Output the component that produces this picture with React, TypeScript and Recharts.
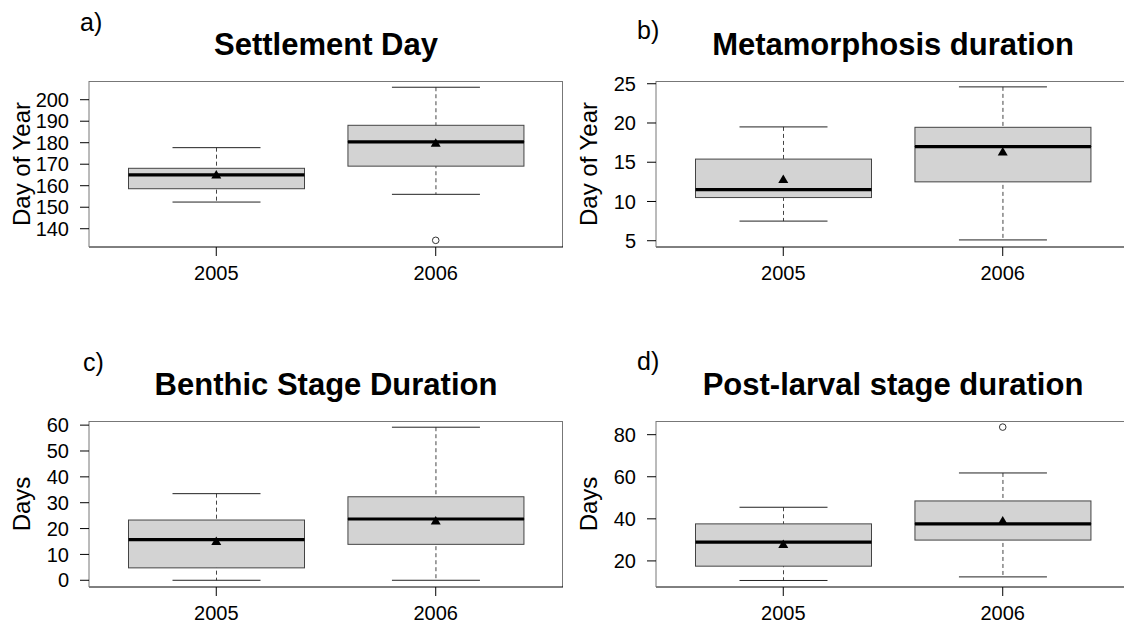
import React from "react";
import { Bar, ComposedChart, Scatter, XAxis, YAxis } from "recharts";

const years = ["2005", "2006"];

// a) Settlement Day
const settleLo = [152.4, 156.0];
const settleQ1 = [158.6, 169.1];
const settleMed = [165.0, 180.4];
const settleQ3 = [168.1, 188.1];
const settleHi = [177.7, 205.8];
const settleMean = [165.0, 179.7];
const settleOut = [null, 134.6];
const settleTicks = [140, 150, 160, 170, 180, 190, 200];

// b) Metamorphosis duration
const metaLo = [7.5, 5.1];
const metaQ1 = [10.5, 12.5];
const metaMed = [11.5, 17.0];
const metaQ3 = [15.4, 19.45];
const metaHi = [19.5, 24.6];
const metaMean = [12.8, 16.3];
const metaOut = [null, null];
const metaTicks = [5, 10, 15, 20, 25];

// c) Benthic Stage Duration
const benthLo = [0, 0];
const benthQ1 = [4.8, 13.9];
const benthMed = [15.7, 23.7];
const benthQ3 = [23.3, 32.3];
const benthHi = [33.5, 59.2];
const benthMean = [15.0, 22.9];
const benthOut = [null, null];
const benthTicks = [0, 10, 20, 30, 40, 50, 60];

// d) Post-larval stage duration
const postLo = [10.7, 12.4];
const postQ1 = [17.5, 29.9];
const postMed = [28.9, 37.6];
const postQ3 = [37.6, 48.5];
const postHi = [45.5, 61.8];
const postMean = [27.8, 39.0];
const postOut = [null, 83.6];
const postTicks = [20, 40, 60, 80];

type Row = {
  year: string;
  lo: number;
  q1: number;
  med: number;
  q3: number;
  hi: number;
  mean: number;
  out: number | null;
};

function rows(
  lo: number[],
  q1: number[],
  med: number[],
  q3: number[],
  hi: number[],
  mean: number[],
  out: (number | null)[]
): Row[] {
  return years.map((year, i) => ({
    year,
    lo: lo[i],
    q1: q1[i],
    med: med[i],
    q3: q3[i],
    hi: hi[i],
    mean: mean[i],
    out: out[i],
  }));
}

const FONT = "'Liberation Sans', Arial, Helvetica, sans-serif";

function Whisker(p: any) {
  const { x, y, width, height } = p;
  const cx = x + width / 2;
  const q = width / 4;
  return (
    <g>
      <line x1={cx} x2={cx} y1={y} y2={y + height} stroke="#444" strokeDasharray="4 3" />
      <line x1={cx - q} x2={cx + q} y1={y} y2={y} stroke="#222" />
      <line x1={cx - q} x2={cx + q} y1={y + height} y2={y + height} stroke="#222" />
    </g>
  );
}

function UpperBox(p: any) {
  const { x, y, width, height } = p;
  return <rect x={x} y={y} width={width} height={height} fill="#d3d3d3" stroke="#444" />;
}

function LowerBox(p: any) {
  const { x, y, width, height } = p;
  return (
    <g>
      <rect x={x} y={y} width={width} height={height} fill="#d3d3d3" stroke="#444" />
      <line x1={x} x2={x + width} y1={y} y2={y} stroke="#000" strokeWidth={3.2} />
    </g>
  );
}

function MeanMark(p: any) {
  const { cx, cy } = p;
  return <path d={`M${cx},${cy - 5}L${cx + 5},${cy + 3.5}L${cx - 5},${cy + 3.5}Z`} fill="#000" />;
}

function OutMark(p: any) {
  const { cx, cy, payload } = p;
  if (payload == null || payload.out == null) return <g />;
  return <circle cx={cx} cy={cy} r={3.3} fill="#fff" stroke="#333" />;
}

type PanelProps = {
  x: number;
  y: number;
  w: number;
  h: number;
  plot: { left: number; top: number; right: number; bottom: number };
  data: Row[];
  domain: [number, number];
  ticks: number[];
  yLabel: string;
};

function Panel({ x, y, w, h, plot, data, domain, ticks, yLabel }: PanelProps) {
  const pw = plot.right - plot.left;
  const pad = (pw / 2.16) * 0.08;
  const yAxisW = plot.left - x;
  const xAxisH = y + h - plot.bottom;
  const axisLabel = (props: any) => {
    const vb = props.viewBox || {};
    const lx = vb.x + vb.width - 68;
    const ly = vb.y + vb.height / 2;
    return (
      <text
        x={lx}
        y={ly}
        transform={`rotate(-90 ${lx} ${ly})`}
        textAnchor="middle"
        dominantBaseline="central"
        fontSize={24}
        fill="#000"
      >
        {yLabel}
      </text>
    );
  };
  return (
    <div style={{ position: "absolute", left: x, top: y, width: w, height: h }}>
      <div
        style={{
          position: "absolute",
          left: plot.left - x,
          top: plot.top - y,
          width: pw,
          height: plot.bottom - plot.top,
          borderTop: "1px solid #777",
          borderRight: "1px solid #777",
          boxSizing: "border-box",
          pointerEvents: "none",
        }}
      />
      <ComposedChart
        width={w}
        height={h}
        data={data}
        barCategoryGap="10%"
        margin={{ top: plot.top - y, right: x + w - plot.right, left: 0, bottom: 0 }}
      >
        <XAxis
          xAxisId="bottom"
          dataKey="year"
          height={xAxisH}
          padding={{ left: pad, right: pad }}
          interval={0}
          tickSize={9}
          tickMargin={10}
          tick={{ fill: "#000", fontSize: 20 }}
          tickLine={{ stroke: "#000" }}
          axisLine={{ stroke: "#000" }}
        />
        <XAxis xAxisId="upper" dataKey="year" hide padding={{ left: pad, right: pad }} />
        <XAxis xAxisId="whisk" dataKey="year" hide padding={{ left: pad, right: pad }} />
        <YAxis
          type="number"
          domain={domain}
          ticks={ticks}
          interval={0}
          width={yAxisW}
          tickSize={9}
          tickMargin={11}
          tick={{ fill: "#000", fontSize: 20 }}
          tickLine={{ stroke: "#000" }}
          axisLine={{ stroke: "#777" }}
          allowDataOverflow
          label={{ content: axisLabel }}
        />
        <Bar
          xAxisId="whisk"
          dataKey={(d: Row) => [d.lo, d.hi]}
          shape={(p: any) => <Whisker {...p} />}
          isAnimationActive={false}
        />
        <Bar
          xAxisId="upper"
          dataKey={(d: Row) => [d.med, d.q3]}
          shape={(p: any) => <UpperBox {...p} />}
          isAnimationActive={false}
        />
        <Bar
          xAxisId="bottom"
          dataKey={(d: Row) => [d.q1, d.med]}
          shape={(p: any) => <LowerBox {...p} />}
          isAnimationActive={false}
        />
        <Scatter xAxisId="bottom" dataKey="mean" shape={(p: any) => <MeanMark {...p} />} isAnimationActive={false} />
        <Scatter xAxisId="bottom" dataKey="out" shape={(p: any) => <OutMark {...p} />} isAnimationActive={false} />
      </ComposedChart>
    </div>
  );
}

export default function App() {
  return (
    <div
      style={{
        position: "absolute",
        left: 0,
        top: 0,
        width: 1124,
        height: 624,
        overflow: "hidden",
        background: "#fff",
        fontFamily: FONT,
      }}
    >
      <Panel
        x={0}
        y={0}
        w={570}
        h={312}
        plot={{ left: 89, top: 81, right: 563, bottom: 247 }}
        data={rows(settleLo, settleQ1, settleMed, settleQ3, settleHi, settleMean, settleOut)}
        domain={[131.5, 208.7]}
        ticks={settleTicks}
        yLabel="Day of Year"
      />
      <Panel
        x={562}
        y={0}
        w={578}
        h={312}
        plot={{ left: 656, top: 81, right: 1130, bottom: 247 }}
        data={rows(metaLo, metaQ1, metaMed, metaQ3, metaHi, metaMean, metaOut)}
        domain={[4.2, 25.35]}
        ticks={metaTicks}
        yLabel="Day of Year"
      />
      <Panel
        x={0}
        y={312}
        w={570}
        h={312}
        plot={{ left: 89, top: 421, right: 563, bottom: 587 }}
        data={rows(benthLo, benthQ1, benthMed, benthQ3, benthHi, benthMean, benthOut)}
        domain={[-2.6, 61.6]}
        ticks={benthTicks}
        yLabel="Days"
      />
      <Panel
        x={562}
        y={312}
        w={578}
        h={312}
        plot={{ left: 656, top: 421, right: 1130, bottom: 587 }}
        data={rows(postLo, postQ1, postMed, postQ3, postHi, postMean, postOut)}
        domain={[7.6, 86.5]}
        ticks={postTicks}
        yLabel="Days"
      />
      <svg
        width={1124}
        height={624}
        style={{ position: "absolute", left: 0, top: 0, pointerEvents: "none" }}
      >
        <g fontFamily={FONT} fill="#000">
          <text x={80} y={31} fontSize={25}>a)</text>
          <text x={637} y={39} fontSize={25}>b)</text>
          <text x={83} y={371} fontSize={25}>c)</text>
          <text x={637} y={370} fontSize={25}>d)</text>
          <g fontSize={31} fontWeight="bold" textAnchor="middle">
            <text x={326} y={55}>Settlement Day</text>
            <text x={893} y={55}>Metamorphosis duration</text>
            <text x={326} y={395}>Benthic Stage Duration</text>
            <text x={893} y={395}>Post-larval stage duration</text>
          </g>
        </g>
      </svg>
    </div>
  );
}
